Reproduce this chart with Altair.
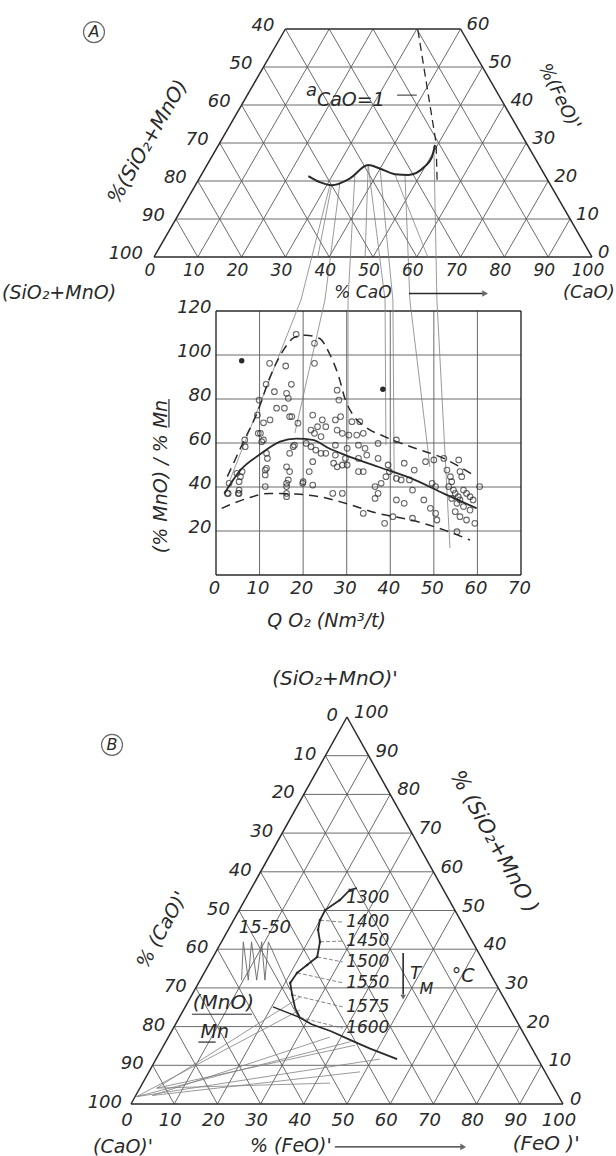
import altair as alt
import pandas as pd

FONT = "DejaVu Sans"
INK = "#2a2a2a"
GRIDC = "#5a5a5a"
TIEC = "#808080"

# ------------------------------------------------------------------ data
# (A) truncated ternary CaO - FeO - (SiO2+MnO), composition in %
A_CURVE_CAO = [24.6, 28.0, 31.1, 34.4, 36.8, 39.9, 44.1, 47.3, 49.9, 50.3, 49.4]
A_CURVE_FEO = [21.3, 19.7, 18.9, 20.7, 24.2, 23.3, 21.8, 21.6, 23.8, 26.3, 29.5]
A_SAT_CAO = [30.4, 49.4, 54.9]          # a_CaO = 1 boundary (dashed)
A_SAT_FEO = [59.7, 30.0, 19.5]
A_TIE_CAO = [30.7, 32.7, 35.2, 36.8, 39.9, 46.5, 49.3]   # tie lines leaving the curve
A_TIE_FEO = [18.95, 19.47, 21.3, 24.2, 23.4, 21.6, 29.2]
A_XTRA_CAO0 = [31.1, 36.8, 44.1]        # short tie lines curve -> base
A_XTRA_FEO0 = [18.9, 24.2, 21.8]
A_XTRA_CAO1 = [37.4, 48.2, 62.5]
A_LEFT_TICKS = [40, 50, 60, 70, 80, 90, 100]
A_RIGHT_TICKS = [0, 10, 20, 30, 40, 50, 60]
A_BOTTOM_TICKS = [0, 10, 20, 30, 40, 50, 60, 70, 80, 90, 100]

# (middle) (%MnO)/%Mn vs Q_O2
PTS_X = [18.4, 22.6, 22.6, 12.3, 16.0, 17.3, 11.5, 13.4, 9.9, 16.6, 13.9, 15.7, 9.5, 16.9, 10.9, 12.4,
         27.8, 28.2, 18.8, 22.2, 24.4, 23.3, 25.2, 27.4, 28.6, 31.2, 33.0, 27.8, 29.0, 30.5, 32.3, 33.8,
         21.8, 22.6, 24.1, 10.2, 10.5, 6.6, 11.6, 11.8, 18.0, 16.9, 20.7, 21.8, 22.9, 24.1, 25.2,
         27.4, 30.1, 32.7, 34.2, 37.2, 41.4, 27.4, 29.7, 32.7, 34.6, 27.0, 27.8, 29.0, 30.1, 32.7, 33.8,
         37.2, 39.5, 39.8, 43.2, 48.1, 50.0, 52.3, 55.7, 22.2, 21.4, 16.2, 16.9, 11.3, 11.3,
         6.0, 5.6, 5.3, 3.0, 2.6, 5.3, 5.3, 11.3, 16.2, 16.2, 16.2, 16.2, 19.9, 22.2, 26.8, 29.0, 33.8,
         36.5, 37.2, 36.5, 37.9, 39.0, 41.4, 43.2, 38.7, 40.6, 45.1, 45.1, 44.4, 45.5, 41.4, 42.5,
         47.7, 49.2, 50.4, 50.7, 49.6, 50.4, 53.0, 53.8, 54.1, 53.4, 54.5, 54.9, 55.6, 56.0,
         56.8, 57.5, 58.3, 59.0, 54.1, 55.3, 56.8, 58.3, 54.9, 56.0, 57.5, 59.4, 60.5, 56.4, 56.0, 55.3,
         16.2, 17.4, 6.7, 9.7, 10.9, 11.6, 4.8, 2.8, 5.1, 16.6, 20.0, 17.7]
PTS_Y = [109.4, 105.3, 96.2, 96.2, 95.0, 86.7, 86.7, 83.3, 79.5, 80.3, 75.8, 75.8, 72.7, 72.0, 69.2, 70.5,
         84.0, 79.5, 69.0, 72.7, 70.5, 67.4, 67.4, 70.5, 72.0, 69.7, 69.7, 65.9, 64.4, 63.6, 63.6, 64.4,
         65.9, 64.4, 62.9, 64.4, 60.6, 61.4, 55.3, 53.0, 59.0, 55.3, 59.8, 58.3, 56.8, 55.3, 55.3,
         59.0, 57.6, 59.0, 57.6, 59.8, 61.4, 54.5, 53.0, 53.0, 54.5, 50.8, 49.2, 50.0, 50.0, 47.0, 47.0,
         53.0, 50.0, 47.0, 50.8, 51.5, 52.3, 53.0, 52.3, 51.5, 47.0, 49.2, 47.0, 47.7, 45.5,
         47.0, 44.7, 42.4, 41.7, 37.1, 38.6, 37.1, 40.2, 41.7, 40.2, 37.1, 35.6, 41.7, 40.9, 37.1, 37.1, 28.0,
         40.2, 37.1, 34.8, 41.7, 44.7, 34.1, 32.6, 23.5, 26.5, 25.8, 38.6, 43.2, 47.7, 43.9, 43.2,
         34.1, 30.3, 28.0, 25.0, 41.7, 40.2, 47.7, 44.7, 42.4, 40.2, 38.6, 37.1, 35.6, 34.1,
         38.6, 37.1, 35.6, 34.1, 34.8, 32.6, 31.1, 29.5, 28.8, 26.5, 25.0, 23.5, 40.2, 44.7, 47.0, 19.7,
         82.6, 72.0, 58.3, 64.4, 61.4, 48.5, 46.2, 37.1, 37.1, 43.2, 42.4, 58.3]
FILLED_X = [5.9, 38.3]
FILLED_Y = [97.4, 84.4]
UP_X = [2.6, 6.4, 9.4, 12.4, 15.4, 18.0, 20.5, 23.7, 26.0, 28.2, 29.7, 31.2, 34.2, 38.7, 44.7, 52.3, 59.0]
UP_Y = [44.7, 61.0, 73.5, 90.0, 102.0, 108.0, 109.0, 107.6, 100.8, 90.0, 79.5, 73.5, 67.4, 62.9, 58.3, 53.0, 45.5]
MID_X = [1.9, 5.6, 10.2, 14.7, 18.4, 22.2, 25.9, 29.7, 37.2, 44.7, 52.3, 59.8]
MID_Y = [37.0, 47.7, 55.0, 60.6, 62.0, 61.4, 57.6, 54.5, 49.2, 44.0, 37.0, 30.3]
LOW_X = [1.3, 7.1, 12.4, 18.4, 23.7, 29.7, 37.2, 44.7, 52.3, 58.3]
LOW_Y = [30.3, 34.8, 37.1, 36.8, 35.6, 32.6, 28.0, 25.0, 20.5, 15.9]
S_TIE_TOP = [19.5, 25.0, 30.3, 38.8, 40.6, 44.5, 50.7]     # Q_O2 where a tie line enters the plot
S_TIE_END_X = [3.2, 18.1, 30.3, 39.0, 40.9, 49.1, 53.7]
S_TIE_END_Y = [43.2, 64.5, 61.4, 59.1, 43.2, 49.1, 12.3]
S_X_TICKS = [0, 10, 20, 30, 40, 50, 60, 70]
S_Y_TICKS = [20, 40, 60, 80, 100, 120]

# (B) full ternary (CaO)' - (FeO)' - (SiO2+MnO)'
B_CURVE_FEO = [24.4, 23.0, 22.0, 19.9, 20.0, 20.8, 22.8, 24.1, 22.8, 21.5, 21.2, 23.2, 25.6, 27.9,
               31.5, 36.9, 42.6, 48.2, 55.8]
B_CURVE_SIO = [55.8, 55.3, 52.7, 50.1, 47.5, 45.0, 41.9, 38.0, 35.9, 33.9, 31.3, 28.2, 24.8, 22.35,
               20.6, 18.8, 16.5, 14.3, 11.6]
B_SEG_FEO = [20.3, 27.9]
B_SEG_SIO = [25.1, 22.35]
B_FAN_FEO0 = [3.9, 0.35, 3.85, 3.9, 0.35, 3.85, 3.9, 0.35]
B_FAN_SIO0 = [4.1, 1.9, 2.2, 4.1, 1.9, 2.2, 4.1, 1.9]
B_FAN_FEO1 = [25.3, 27.0, 37.4, 44.3, 51.8, 48.85, 43.4, 42.75]
B_FAN_SIO1 = [27.6, 24.3, 17.3, 15.2, 11.6, 8.3, 5.4, 16.1]
B_ZIG_FEO = [9.6, 5.05, 11.15, 6.95, 13.1, 9.3, 15.0, 10.85, 22.05]
B_ZIG_SIO = [32.0, 41.9, 32.0, 41.9, 32.0, 41.9, 32.0, 41.9, 29.5]
B_TEMPS = ["1300", "1400", "1450", "1500", "1550", "1575", "1600"]
B_TEMP_Y = [53.2, 47.0, 42.1, 36.7, 31.3, 25.1, 19.6]
B_LEAD_FEO0 = [20.0, 22.8, 24.1, 21.5, 23.2, 27.9]
B_LEAD_SIO0 = [47.5, 41.9, 38.0, 33.9, 28.2, 22.35]
B_TICKS = [0, 10, 20, 30, 40, 50, 60, 70, 80, 90, 100]
B_GRID = [10, 20, 30, 40, 50, 60, 70, 80, 90]

# ---------------------------------------------------------------- layout
W = 616
HA, HS, HB = 300, 340, 516
A_MAP = (154, 4.38, 257, 3.8)     # x0 px, px/unit, y0 px (from panel top), px/unit
S_MAP = (216, 4.357, 275, 2.2)
B_MAP = (131, 4.32, 464, 3.87)
TICK = 18


def scales(m, h):
    x0, xs, y0, ys = m
    sx = alt.Scale(domain=[-x0 / xs, (W - x0) / xs], nice=False, zero=False)
    sy = alt.Scale(domain=[(y0 - h) / ys, y0 / ys], nice=False, zero=False)
    return sx, sy


def ta(c, f):          # panel A: CaO, FeO -> plot units
    return c + f / 2.0, f


def tb(fe, s):         # panel B: FeO, SiO2+MnO -> plot units
    return fe + s / 2.0, s


def seg_df(segs):
    return pd.DataFrame([{"x": a[0], "y": a[1], "x2": b[0], "y2": b[1]} for a, b in segs])


def line_df(xs, ys):
    return pd.DataFrame({"x": xs, "y": ys, "i": list(range(len(xs)))})


class Panel:
    def __init__(self, m, h, axx=None, axy=None):
        sx, sy = scales(m, h)
        self.X = alt.X("x:Q", scale=sx, axis=axx)
        self.Y = alt.Y("y:Q", scale=sy, axis=axy)
        self.layers = []

    def rules(self, segs, **kw):
        self.layers.append(alt.Chart(seg_df(segs)).mark_rule(**kw).encode(
            x=self.X, y=self.Y, x2=alt.X2("x2"), y2=alt.Y2("y2")))

    def line(self, xs, ys, **kw):
        self.layers.append(alt.Chart(line_df(xs, ys)).mark_line(**kw).encode(
            x=self.X, y=self.Y, order="i:Q"))

    def points(self, xs, ys, **kw):
        self.layers.append(alt.Chart(pd.DataFrame({"x": xs, "y": ys})).mark_point(**kw).encode(
            x=self.X, y=self.Y))

    def text(self, xs, ys, ts, size=TICK, align="center", angle=0, dx=0, dy=0, style="italic"):
        self.layers.append(alt.Chart(pd.DataFrame({"x": xs, "y": ys, "t": ts})).mark_text(
            font=FONT, fontStyle=style, fontSize=size, color=INK, align=align, baseline="middle",
            angle=angle, dx=dx, dy=dy).encode(x=self.X, y=self.Y, text="t:N"))

    def chart(self, h):
        return alt.layer(*self.layers).properties(width=W, height=h)


# ---------------------------------------------------------------- panel A
pa = Panel(A_MAP, HA)
grid = []
for f in [10, 20, 30, 40, 50]:
    grid.append((ta(0, f), ta(100 - f, f)))
for c in [10, 20, 30, 40, 50, 60, 70, 80, 90]:
    grid.append((ta(c, 0), ta(c, min(60, 100 - c))))
for g in [10, 20, 30, 40, 50, 60, 70, 80, 90]:
    top = min(60, g)
    grid.append((ta(g, 0), ta(g - top, top)))
pa.rules(grid, color=GRIDC, strokeWidth=0.9)
pa.rules([(ta(0, 0), ta(100, 0)), (ta(100, 0), ta(40, 60)), (ta(40, 60), ta(0, 60)),
          (ta(0, 60), ta(0, 0))], color=INK, strokeWidth=1.5)
# tie lines in A continuing into the middle chart
ax0, axs, ay0, ays = A_MAP
sx0, sxs, _, _ = S_MAP
ties = []
for c, f, qt in zip(A_TIE_CAO, A_TIE_FEO, S_TIE_TOP):
    px = sx0 + sxs * qt
    ties.append((ta(c, f), ((px - ax0) / axs, (ay0 - HA) / ays)))
for c0, f0, c1 in zip(A_XTRA_CAO0, A_XTRA_FEO0, A_XTRA_CAO1):
    ties.append((ta(c0, f0), ta(c1, 0)))
pa.rules(ties, color=TIEC, strokeWidth=0.8)
cx, cy = zip(*[ta(c, f) for c, f in zip(A_CURVE_CAO, A_CURVE_FEO)])
pa.line(list(cx), list(cy), color=INK, strokeWidth=2, interpolate="monotone")
sx_, sy_ = zip(*[ta(c, f) for c, f in zip(A_SAT_CAO, A_SAT_FEO)])
pa.line(list(sx_), list(sy_), color=INK, strokeWidth=1.3, strokeDash=[8, 5])
pa.rules([(ta(34.2, 42.6), ta(38.7, 42.6))], color=INK, strokeWidth=1)
# tick labels
lx, ly = zip(*[ta(0, 100 - v) for v in A_LEFT_TICKS])
pa.text(list(lx), list(ly), [str(v) for v in A_LEFT_TICKS], align="right", dx=-11, dy=-3)
rx, ry = zip(*[ta(100 - v, v) for v in A_RIGHT_TICKS])
pa.text(list(rx), list(ry), [str(v) for v in A_RIGHT_TICKS], align="left", dx=6, dy=-4)
bx, by = zip(*[ta(v, 0) for v in A_BOTTOM_TICKS])
pa.text(list(bx), list(by), [str(v) for v in A_BOTTOM_TICKS], size=17, dx=-4, dy=14)
# annotations (plot units)
pa.points([-13.7], [59.2], shape="circle", filled=False, size=440, color=INK, strokeWidth=1.2)
pa.text([-13.7], [59.2], ["A"], size=16)
pa.text([34.7], [43.8], ["a"], size=18, align="left")
pa.text([37.2], [41.2], ["CaO=1"], size=19, align="left")
pa.text([-34.7], [-9.4], ["(SiO₂+MnO)"], size=19, align="left")
pa.text([47.7], [-9.6], ["% CaO"], size=17)
pa.rules([((58.2, -9.6), (75.0, -9.6))], color=INK, strokeWidth=1.3)
pa.points([75.6], [-9.6], shape="triangle-right", filled=True, size=45, color=INK)
pa.text([105.2], [-9.6], ["(CaO)"], size=18, align="right")
pa.text([-1.4], [30.3], ["%(SiO₂+MnO)"], size=20, angle=300)
pa.text([92.5], [42.1], ["%(FeO)'"], size=18, angle=63)
chartA = pa.chart(HA)

# ---------------------------------------------------------------- middle chart
lab = dict(labelFont=FONT, labelFontSize=TICK, labelFontStyle="italic", labelColor=INK,
           titleFont=FONT, titleFontSize=19, titleFontStyle="italic", titleFontWeight="normal",
           titleColor=INK, domain=False, ticks=False, grid=False, labelFlush=False,
           labelOverlap=False)
axx = alt.Axis(values=S_X_TICKS, orient="bottom", offset=-65, labelPadding=4, labelOffset=-2,
               title="Q O₂ (Nm³/t)", titleX=326, titleY=45, titleAlign="center",
               titleBaseline="middle", **lab)
axy = alt.Axis(values=S_Y_TICKS, orient="left", offset=-216, labelPadding=5, labelOffset=-4,
               title="(% MnO) / % Mn", titleAngle=270, titleX=-56, titleY=176,
               titleAlign="center", titleBaseline="middle", **lab)
ps = Panel(S_MAP, HS, axx, axy)
sg = [((x, 0), (x, 120)) for x in [10, 20, 30, 40, 50, 60]]
sg += [((0, y), (70, y)) for y in [20, 40, 60, 80, 100]]
ps.rules(sg, color=GRIDC, strokeWidth=0.9)
ps.rules([((0, 0), (70, 0)), ((0, 120), (70, 120)), ((0, 0), (0, 120)), ((70, 0), (70, 120))],
         color=INK, strokeWidth=1.4)
stop = 275 / 2.2
ps.rules([((t, stop), (ex, ey)) for t, ex, ey in zip(S_TIE_TOP, S_TIE_END_X, S_TIE_END_Y)],
         color=TIEC, strokeWidth=0.8)
ps.line(UP_X, UP_Y, color=INK, strokeWidth=1.5, strokeDash=[9, 6], interpolate="monotone")
ps.line(MID_X, MID_Y, color=INK, strokeWidth=1.8, interpolate="monotone")
ps.line(LOW_X, LOW_Y, color=INK, strokeWidth=1.5, strokeDash=[9, 6], interpolate="monotone")
ps.points(PTS_X, PTS_Y, shape="circle", filled=False, size=32, color=INK, strokeWidth=1.1)
ps.points(FILLED_X, FILLED_Y, shape="circle", filled=True, size=30, color=INK, opacity=1)
ps.rules([((-10.8, 80.0), (-10.8, 67.0))], color=INK, strokeWidth=1.2)   # underline "Mn"
chartS = ps.chart(HS)

# ---------------------------------------------------------------- panel B
pb = Panel(B_MAP, HB)
gb = []
for s in B_GRID:
    gb.append((tb(0, s), tb(100 - s, s)))
for fe in B_GRID:
    gb.append((tb(fe, 0), tb(fe, 100 - fe)))
for h in B_GRID:
    gb.append((tb(h, 0), tb(0, h)))
pb.rules(gb, color=GRIDC, strokeWidth=0.9)
pb.rules([(tb(0, 0), tb(100, 0)), (tb(100, 0), tb(0, 100)), (tb(0, 100), tb(0, 0))],
         color=INK, strokeWidth=1.5)
fan = [(tb(a, b), tb(c, d)) for a, b, c, d in zip(B_FAN_FEO0, B_FAN_SIO0, B_FAN_FEO1, B_FAN_SIO1)]
pb.rules(fan, color=TIEC, strokeWidth=0.8)
zx, zy = zip(*[tb(a, b) for a, b in zip(B_ZIG_FEO, B_ZIG_SIO)])
pb.line(list(zx), list(zy), color="#666666", strokeWidth=0.9)
lead = []
for fe, s, ty in zip(B_LEAD_FEO0, B_LEAD_SIO0, B_TEMP_Y[1:]):
    lead.append((tb(fe, s), (49.0, ty)))
pb.rules(lead, color="#666666", strokeWidth=0.8, strokeDash=[4, 2])
bcx, bcy = zip(*[tb(a, b) for a, b in zip(B_CURVE_FEO, B_CURVE_SIO)])
pb.line(list(bcx), list(bcy), color=INK, strokeWidth=1.8)
pb.points(list(bcx[1:12]), list(bcy[1:12]), shape="circle", filled=True, size=8, color=INK)
sgx, sgy = zip(*[tb(a, b) for a, b in zip(B_SEG_FEO, B_SEG_SIO)])
pb.line(list(sgx), list(sgy), color=INK, strokeWidth=1.4)
# tick labels
lx, ly = zip(*[tb(0, 100 - v) for v in B_TICKS])
pb.text(list(lx), list(ly), [str(v) for v in B_TICKS], align="right", dx=-9, dy=-1)
rx, ry = zip(*[tb(100 - v, v) for v in B_TICKS])
pb.text(list(rx), list(ry), [str(v) for v in B_TICKS], align="left", dx=7, dy=-4)
bx, by = zip(*[tb(v, 0) for v in B_TICKS])
pb.text(list(bx), list(by), [str(v) for v in B_TICKS], dx=-4, dy=17)
# annotations
pb.text([47.2], [109.8], ["(SiO₂+MnO)'"], size=20)
pb.points([-4.4], [92.8], shape="circle", filled=False, size=440, color=INK, strokeWidth=1.2)
pb.text([-4.4], [92.8], ["B"], size=16)
pb.text([7.2], [45.0], ["% (CaO)'"], size=19, angle=299)
pb.text([84.0], [67.7], ["% (SiO₂+MnO )"], size=21, angle=61)
pb.text([31.0], [45.5], ["15-50"], size=18)
pb.text([21.4], [26.1], ["(MnO)"], size=20)
pb.rules([((14.1, 23.2), (28.0, 23.2))], color=INK, strokeWidth=1)
pb.text([19.4], [18.6], ["Mn"], size=19)
pb.rules([((15.6, 16.0), (19.6, 16.0))], color=INK, strokeWidth=1.2)
pb.text([49.8] * len(B_TEMPS), B_TEMP_Y, B_TEMPS, size=17, align="left")
pb.rules([((63.0, 39.0), (63.0, 28.3))], color=INK, strokeWidth=1.6)
pb.points([63.0], [27.6], shape="triangle-down", filled=True, size=30, color=INK)
pb.text([64.6], [33.6], ["T"], size=18, align="left")
pb.text([66.8], [29.6], ["M"], size=16, align="left")
pb.text([76.9], [33.1], ["°C"], size=19)
pb.text([-1.85], [-11.1], ["(CaO)'"], size=19)
pb.text([37.0], [-10.9], ["% (FeO)'"], size=19)
pb.rules([((47.2, -11.1), (76.3, -11.1))], color=INK, strokeWidth=1.3)
pb.points([76.9], [-11.1], shape="triangle-right", filled=True, size=45, color=INK)
pb.text([96.1], [-10.3], ["(FeO )'"], size=20)
chartB = pb.chart(HB)

chart = alt.vconcat(chartA, chartS, chartB, spacing=0, bounds="flush", padding=0,
                    background="white").configure_view(stroke=None)
chart.save("out.html", embed_options={"renderer": "svg", "actions": False})
